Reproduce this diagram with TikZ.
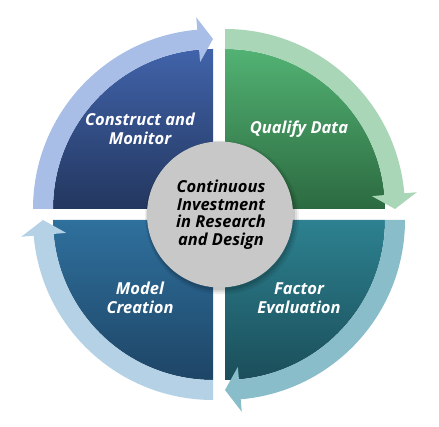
\documentclass[tikz,border=0pt]{standalone}
\usepackage{fontspec}
\setmainfont{Open Sans}
\definecolor{tlTop}{HTML}{4163AA}
\definecolor{tlBot}{HTML}{23375F}
\definecolor{tlBand}{HTML}{A9BEE6}
\definecolor{trTop}{HTML}{52B273}
\definecolor{trBot}{HTML}{2C6A40}
\definecolor{trBand}{HTML}{A8D6B6}
\definecolor{brTop}{HTML}{2D8190}
\definecolor{brBot}{HTML}{1B4E5A}
\definecolor{brBand}{HTML}{88BDC9}
\definecolor{blTop}{HTML}{2F709D}
\definecolor{blBot}{HTML}{1E4566}
\definecolor{blBand}{HTML}{B5D1E5}
\definecolor{hubGray}{HTML}{C8C8C8}
\tikzset{
  lbl/.style={text=white, font=\fontsize{16.5}{18.5}\selectfont\bfseries\itshape, align=center},
  hublbl/.style={text=black, font=\fontsize{16.5}{17.5}\selectfont\bfseries\itshape, align=center}
}
\begin{document}
\begin{tikzpicture}[x=1pt,y=1pt]
\useasboundingbox (-219,-212.5) rectangle (220,214.5);
% top-left quadrant
\begin{scope}[shift={(-6,5.5)}]
  \shade[top color=tlTop, bottom color=tlBot] (0,0) -- (180:160) arc (180:90:160) -- cycle;
  \fill[tlBand] (180:180) arc (180:95:180) -- (95:192.5) -- (90:170) -- (95:147.5) -- (95:160) arc (95:180:160) -- cycle;
\end{scope}
% top-right quadrant
\begin{scope}[shift={(6,5.5)}]
  \shade[top color=trTop, bottom color=trBot] (0,0) -- (0:160) arc (0:90:160) -- cycle;
  \fill[trBand] (90:180) arc (90:5:180) -- (5:192.5) -- (0:170) -- (5:147.5) -- (5:160) arc (5:90:160) -- cycle;
\end{scope}
% bottom-right quadrant
\begin{scope}[shift={(6,-5.5)}]
  \shade[top color=brTop, bottom color=brBot] (0,0) -- (-90:160) arc (-90:0:160) -- cycle;
  \fill[brBand] (0:180) arc (0:-85:180) -- (-85:192.5) -- (-90:170) -- (-85:147.5) -- (-85:160) arc (-85:0:160) -- cycle;
\end{scope}
% bottom-left quadrant
\begin{scope}[shift={(-6,-5.5)}]
  \shade[top color=blTop, bottom color=blBot] (0,0) -- (180:160) arc (180:270:160) -- cycle;
  \fill[blBand] (270:180) arc (270:185:180) -- (185:192.5) -- (180:170) -- (185:147.5) -- (185:160) arc (185:270:160) -- cycle;
\end{scope}
% hub shadow
\fill[black, opacity=0.06] (3,-3) circle (77);
\fill[black, opacity=0.08] (2.5,-2.5) circle (75.5);
\fill[black, opacity=0.10] (2,-2) circle (74);
\node[circle, fill=hubGray, minimum size=146, inner sep=0pt] (hub) at (1,0) {};
\node[hublbl] (hubtext) at (2,0) {Continuous\\Investment\\in Research\\and Design};
% labels
\node[lbl] (cm) at (-79,85.5) {Construct and\\Monitor};
\node[lbl] (qd) at (80,85) {Qualify Data};
\node[lbl] (mc) at (-79,-83.5) {Model\\Creation};
\node[lbl] (fe) at (80,-83.5) {Factor\\Evaluation};
\end{tikzpicture}
\end{document}
